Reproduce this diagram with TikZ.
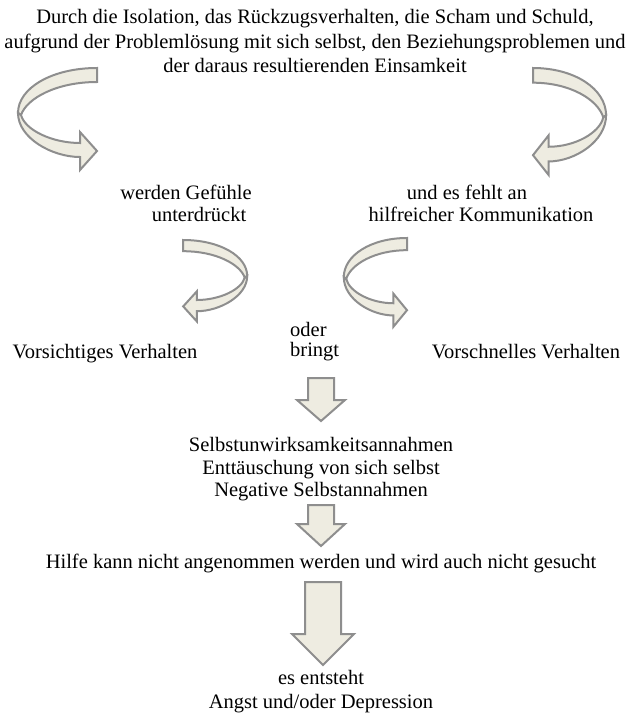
\documentclass[tikz,border=0pt]{standalone}
\usepackage{fontspec}
\setmainfont{Liberation Serif}
\definecolor{arrowfill}{HTML}{EEECE1}
\definecolor{arrowline}{HTML}{8E8E8E}
\tikzset{
  txt/.style={anchor=base, inner sep=0pt, font=\fontsize{20.5}{24}\selectfont},
  blockarrow/.style={fill=arrowfill, draw=arrowline, line width=2pt, line join=miter},
}
% curved ribbon arrow: #1,#2 = shift, #3,#4 = scale (local box 80 x 102)
\newcommand\ribbonarrow[4]{%
  \begin{scope}[shift={(#1,#2)}, xscale=#3, yscale=#4]
    \path[blockarrow] (80,0) .. controls (35,0) and (1,20) .. (1,45)
      -- (4,47) .. controls (10,30) and (40,14) .. (80,14) -- cycle;
    \path[blockarrow] (1,45) .. controls (1,70) and (35,89) .. (63,89)
      -- (63,102) -- (80,83) -- (63,64) -- (63,75)
      .. controls (35,75) and (8,62) .. (4,47) -- cycle;
  \end{scope}}
% straight down arrow: #1 = centre x, #2 = top y, #3 = shaft half width, #4 = head half width, #5 = head top y, #6 = tip y
\newcommand\downblock[6]{%
  \path[blockarrow] (#1-#3,#2) -- (#1+#3,#2) -- (#1+#3,#5) -- (#1+#4,#5)
    -- (#1,#6) -- (#1-#4,#5) -- (#1-#3,#5) -- cycle;}
\begin{document}
\begin{tikzpicture}[x=1pt, y=-1pt]
\useasboundingbox (0,0) rectangle (631,715);
\fill[white] (0,0) rectangle (631,715);

\node[txt] (t1) at (315,23) {Durch die Isolation, das Rückzugsverhalten, die Scham und Schuld,};
\node[txt] (t2) at (315,48) {aufgrund der Problemlösung mit sich selbst, den Beziehungsproblemen und};
\node[txt] (t3) at (315,72) {der daraus resultierenden Einsamkeit};

\ribbonarrow{17}{68}{1}{1}
\ribbonarrow{607}{68}{-0.925}{1.05}

\node[txt] (g1) at (186,199) {werden Gefühle};
\node[txt] (g2) at (199,221) {unterdrückt};
\node[txt] (k1) at (467,199) {und es fehlt an};
\node[txt] (k2) at (481,221) {hilfreicher Kommunikation};

\ribbonarrow{248}{240}{-0.81}{0.80}
\ribbonarrow{343}{238}{0.80}{0.87}

\node[txt] (v1) at (105,358) {Vorsichtiges Verhalten};
\node[txt, anchor=base west] (o1) at (290,336) {oder};
\node[txt, anchor=base west] (o2) at (290,356) {bringt};
\node[txt] (v2) at (526,358) {Vorschnelles Verhalten};

\downblock{321}{378}{13}{24}{400}{421}

\node[txt] (s1) at (321,451) {Selbstunwirksamkeitsannahmen};
\node[txt] (s2) at (321,474) {Enttäuschung von sich selbst};
\node[txt] (s3) at (321,496) {Negative Selbstannahmen};

\downblock{321}{505}{13}{24}{524}{546}

\node[txt] (h1) at (321,568) {Hilfe kann nicht angenommen werden und wird auch nicht gesucht};

\downblock{323}{582}{18}{31}{634}{665}

\node[txt] (e1) at (321,684) {es entsteht};
\node[txt] (e2) at (321,708) {Angst und/oder Depression};
\end{tikzpicture}
\end{document}
